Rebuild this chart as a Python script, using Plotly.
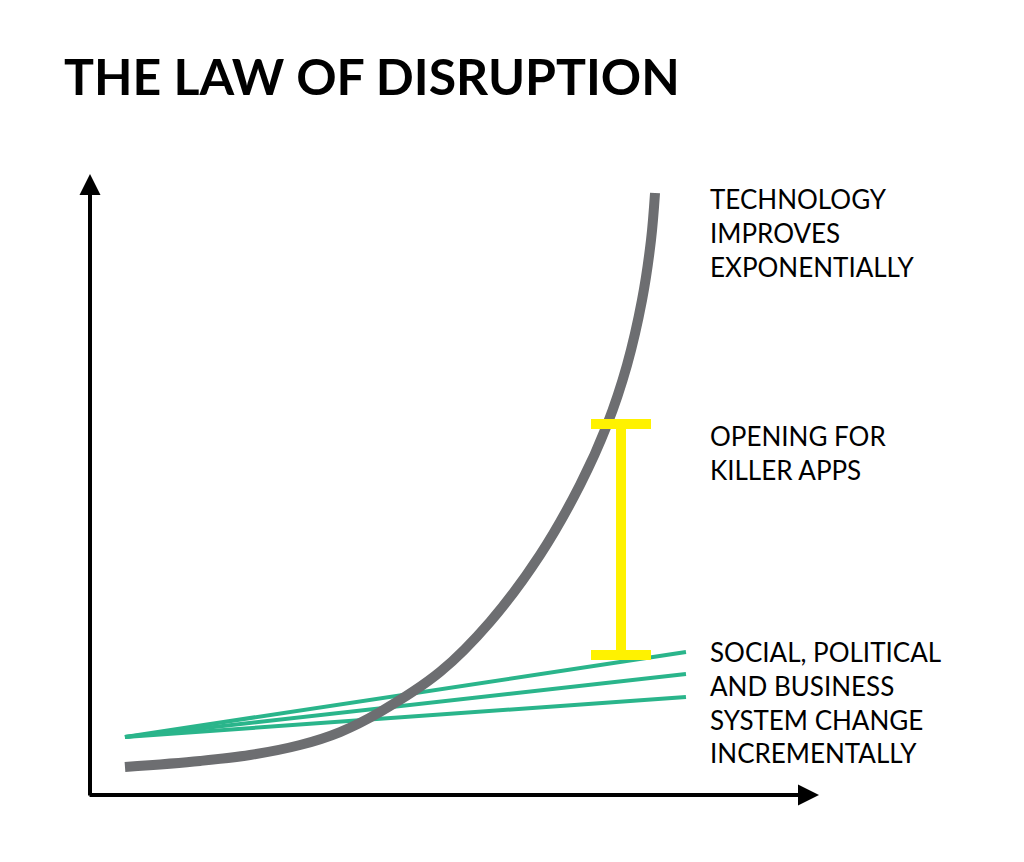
import plotly.graph_objects as go

# ---- data (abstract units: x 0..100, y 0..100) ----
tech_x = [4.79, 15.07, 21.92, 28.77, 34.25, 39.73, 47.95, 54.79, 61.64, 67.12, 70.82, 73.56, 75.62, 76.85, 77.40]
tech_y = [4.51, 5.48, 6.44, 8.05, 10.14, 13.37, 19.81, 27.86, 38.65, 49.92, 59.58, 69.24, 79.71, 89.37, 96.94]

social_x = [4.79, 81.64]
social_a = [9.34, 23.03]
social_b = [9.34, 19.48]
social_c = [9.34, 15.78]

gap_x = [72.74]
gap_mid = [41.14]
gap_half = [18.6]

title_text = "THE LAW OF DISRUPTION"
label_tech = "TECHNOLOGY<br>IMPROVES<br>EXPONENTIALLY"
label_gap = "OPENING FOR<br>KILLER APPS"
label_social = "SOCIAL, POLITICAL<br>AND BUSINESS<br>SYSTEM CHANGE<br>INCREMENTALLY"

GRAY = "#6d6e71"
GREEN = "#2ab58b"
YELLOW = "#fff200"

# page body has an 8px margin; compensate so marks land where they should
OFF = 8

fig = go.Figure()

for ys in (social_a, social_b, social_c):
    fig.add_trace(go.Scatter(x=social_x, y=ys, mode="lines",
                             line=dict(color=GREEN, width=4), hoverinfo="skip"))

fig.add_trace(go.Scatter(x=tech_x, y=tech_y, mode="lines",
                         line=dict(color=GRAY, width=10, shape="spline", smoothing=1.0),
                         hoverinfo="skip"))

fig.add_trace(go.Scatter(x=gap_x, y=gap_mid, mode="markers",
                         marker=dict(size=1, color="rgba(0,0,0,0)"),
                         error_y=dict(type="data", array=gap_half, symmetric=True,
                                      color=YELLOW, thickness=10, width=30),
                         hoverinfo="skip"))

FONT = "Lato"
annots = []
# axes with arrowheads
annots.append(dict(x=0, y=100, ax=0, ay=-0.32, xref="x", yref="y", axref="x", ayref="y",
                   text="", showarrow=True, arrowhead=2, arrowsize=1.05, arrowwidth=4,
                   arrowcolor="black"))
annots.append(dict(x=99.86, y=0, ax=-0.27, ay=0, xref="x", yref="y", axref="x", ayref="y",
                   text="", showarrow=True, arrowhead=2, arrowsize=1.05, arrowwidth=4,
                   arrowcolor="black"))

label_font = dict(family=FONT, size=26, color="black")
for txt, yv in ((label_tech, 90.5), (label_gap, 55.1), (label_social, 14.9)):
    annots.append(dict(x=84.6, y=yv, xref="x", yref="y", text=txt, showarrow=False,
                       xanchor="left", yanchor="middle", align="left", font=label_font))

fig.update_layout(
    width=1024, height=862,
    margin=dict(l=90 - OFF, r=204 + OFF, t=174 - OFF, b=67 + OFF),
    paper_bgcolor="white", plot_bgcolor="white",
    showlegend=False,
    title=dict(text="<b>" + title_text + "</b>", xref="container", yref="container",
               x=(64 - OFF) / 1024, y=1 - (77 - OFF) / 862, xanchor="left", yanchor="middle",
               font=dict(family=FONT, size=50, color="black")),
    xaxis=dict(range=[0, 100], visible=False, fixedrange=True),
    yaxis=dict(range=[0, 100], visible=False, fixedrange=True),
    annotations=annots,
)

fig.write_html("out.html")
